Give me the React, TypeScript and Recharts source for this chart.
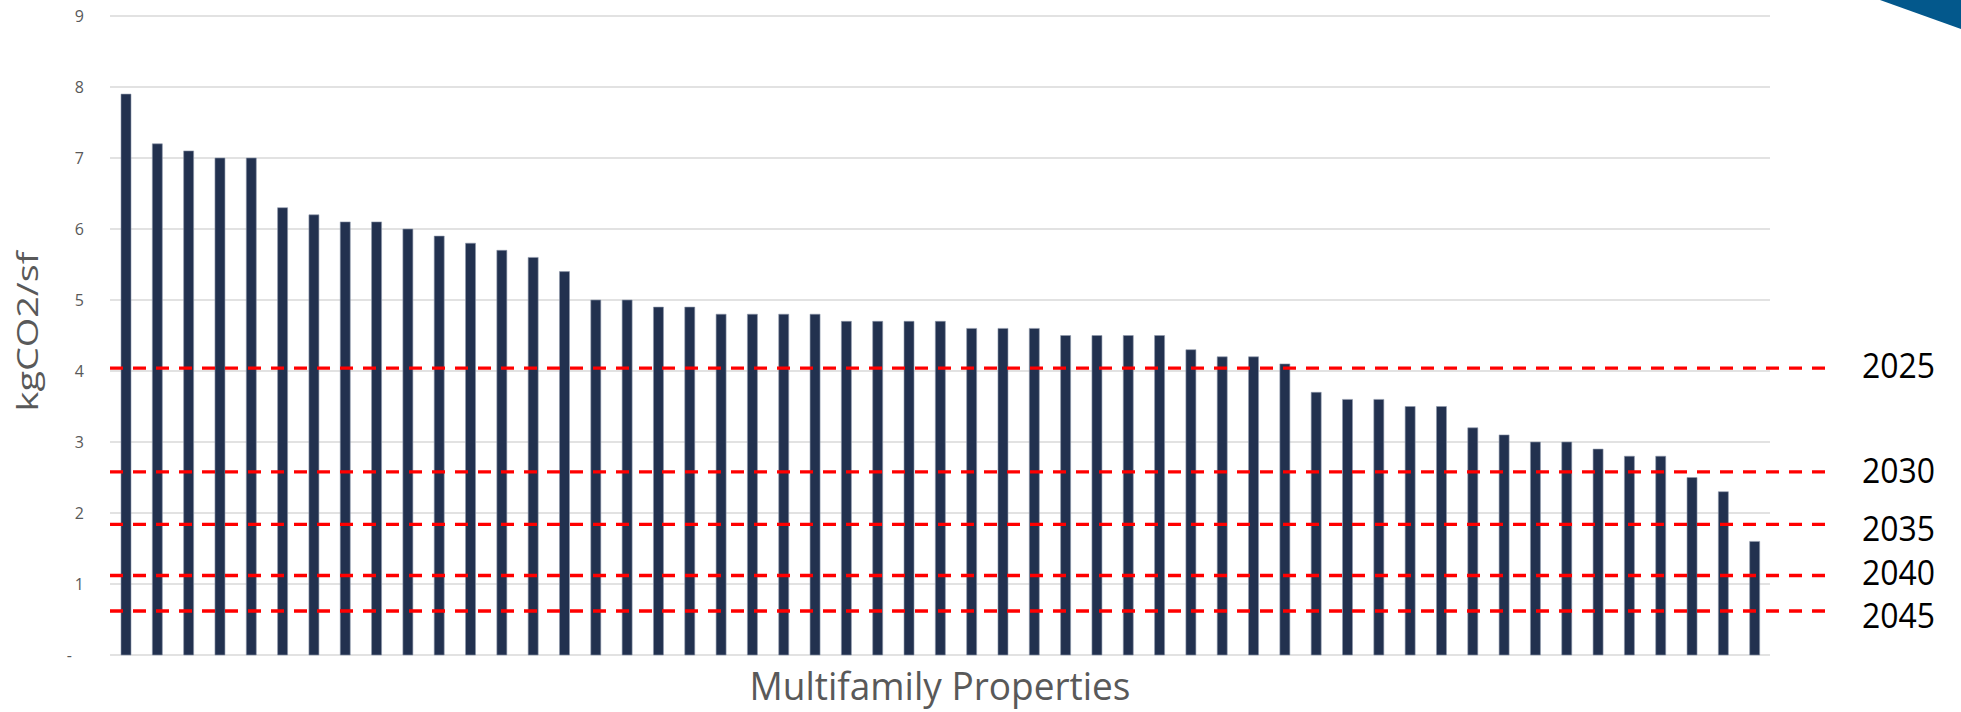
import React from "react";
import { Bar, BarChart, CartesianGrid, ReferenceLine, XAxis, YAxis } from "recharts";

const FONT = "'Segoe UI', 'Open Sans', sans-serif";

// kgCO2/sf per property, sorted high to low
const emissions = [
    7.9, 7.2, 7.1, 7.0, 7.0, 6.3, 6.2, 6.1, 6.1, 6.0,
    5.9, 5.8, 5.7, 5.6, 5.4, 5.0, 5.0, 4.9, 4.9, 4.8,
    4.8, 4.8, 4.8, 4.7, 4.7, 4.7, 4.7, 4.6, 4.6, 4.6,
    4.5, 4.5, 4.5, 4.5, 4.3, 4.2, 4.2, 4.1, 3.7, 3.6,
    3.6, 3.5, 3.5, 3.2, 3.1, 3.0, 3.0, 2.9, 2.8, 2.8,
    2.5, 2.3, 1.6,
];
const properties = emissions.map((_, i) => `Property ${i + 1}`);

// emission limits per compliance period
const targetYears = ["2025", "2030", "2035", "2040", "2045"];
const targetLimits = [4.04, 2.58, 1.84, 1.12, 0.62];

const yTicks = [0, 1, 2, 3, 4, 5, 6, 7, 8, 9];

const data = properties.map((name, i) => ({ name, value: emissions[i] }));

// small vertical nudges so the year labels don't crowd each other
const yearNudge = [0, 1, 7, 0, 7];

function YTick(props: any) {
    const { x, y, payload } = props;
    const zero = payload.value === 0;
    return (
        <text x={zero ? x - 12 : x} y={y} dy="0.355em" textAnchor="end"
            fill="#595959" fontSize={16} fontFamily={FONT}>
            {zero ? "-" : payload.value}
        </text>
    );
}

function dashedLine(p: any) {
    return (
        <line x1={p.x1} y1={p.y1} x2={p.x2 + 58} y2={p.y2}
            stroke="#ff0000" strokeWidth={3.3} strokeDasharray="13 10" />
    );
}

function yearLabel(text: string, nudge: number) {
    return (p: any) => {
        const vb = p.viewBox || {};
        return (
            <text x={vb.x + vb.width + 92} y={vb.y + 10 + nudge} fill="#000"
                fontSize={35} fontFamily={FONT} textLength={73} lengthAdjust="spacingAndGlyphs">
                {text}
            </text>
        );
    };
}

function YTitle(p: any) {
    const vb = p.viewBox || {};
    const cx = vb.x + 37.5;
    const cy = vb.y + vb.height / 2 - 4;
    return (
        <text x={cx} y={cy} transform={`rotate(-90, ${cx}, ${cy})`} textAnchor="middle"
            fill="#595959" fontSize={30} fontFamily={FONT} textLength={160} lengthAdjust="spacingAndGlyphs">
            kgCO2/sf
        </text>
    );
}

function XTitle(p: any) {
    const vb = p.viewBox || {};
    return (
        <text x={vb.x + vb.width / 2} y={vb.y + 45} textAnchor="middle"
            fill="#595959" fontSize={38} fontFamily={FONT} textLength={381} lengthAdjust="spacingAndGlyphs">
            Multifamily Properties
        </text>
    );
}

export default function App() {
    return (
        <div style={{ position: "absolute", left: 0, top: 0, width: 1961, height: 712, background: "#fff" }}>
            <BarChart
                width={1961}
                height={712}
                data={data}
                margin={{ top: 16, right: 191, bottom: 0, left: 0 }}
            >
                <CartesianGrid vertical={false} stroke="#d9d9d9" strokeWidth={1.5} />
                <XAxis dataKey="name" height={57} tick={false} axisLine={false} tickLine={false}
                    label={XTitle} />
                <YAxis width={110} domain={[0, 9]} ticks={yTicks} interval={0}
                    axisLine={false} tickLine={false} tickSize={0} tickMargin={26}
                    tick={<YTick />} label={YTitle} />
                <Bar dataKey="value" barSize={10} fill="#22314f" stroke="#8f98ab" strokeWidth={0.6}
                    isAnimationActive={false} />
                {targetLimits.map((v, i) => (
                    <ReferenceLine key={targetYears[i]} y={v} stroke="#ff0000"
                        shape={dashedLine} label={yearLabel(targetYears[i], yearNudge[i])} />
                ))}
            </BarChart>
            <svg width={1961} height={712} style={{ position: "absolute", left: 0, top: 0, pointerEvents: "none" }}>
                <polygon points="1880,0 1961,0 1961,29" fill="#03588c" />
            </svg>
        </div>
    );
}
